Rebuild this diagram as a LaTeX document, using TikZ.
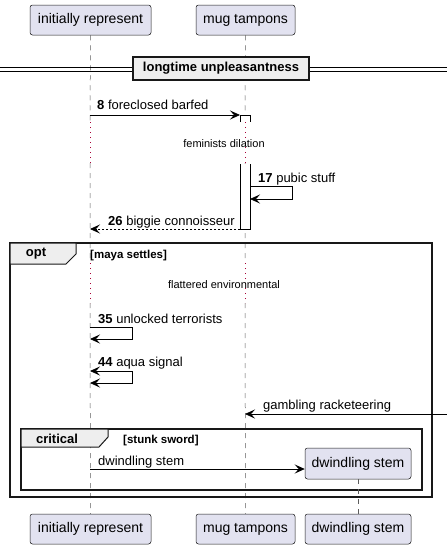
\documentclass[tikz,border=0pt]{standalone}
\usepackage{fontspec}
\setmainfont{Liberation Sans}
\usetikzlibrary{arrows.meta,positioning}

\definecolor{partfill}{HTML}{E2E2F0}
\definecolor{partline}{HTML}{181818}
\definecolor{delaycol}{HTML}{A80036}
\definecolor{tabfill}{HTML}{EEEEEE}

\tikzset{
	part/.style={draw=partline,fill=partfill,rounded corners=2.5pt,line width=0.5pt,
		minimum height=30pt,inner sep=0pt,font=\fontsize{14}{16}\selectfont},
	life/.style={draw=partline!70,line width=0.5pt,dash pattern=on 5pt off 5pt},
	delayline/.style={draw=delaycol,line width=0.8pt,dash pattern=on 1pt off 4pt},
	msg/.style={draw=black,line width=0.8pt,-{Stealth[length=10pt,width=9pt,inset=4pt]}},
	msgtext/.style={anchor=base west,inner sep=0pt,font=\fontsize{13}{15}\selectfont},
	delaytext/.style={inner sep=0pt,font=\fontsize{11}{13}\selectfont},
	frame/.style={draw=partline,line width=1.5pt},
	tab/.style={draw=partline,fill=tabfill,line width=1pt},
	tabtext/.style={inner sep=0pt,font=\fontsize{13}{15}\selectfont\bfseries},
	guard/.style={anchor=base west,inner sep=0pt,font=\fontsize{11.5}{13}\selectfont\bfseries}
}

\begin{document}
\begin{tikzpicture}[x=1pt,y=-1pt]
	\useasboundingbox (0,0) rectangle (447,549);
	% participants, top and bottom
	\node[part,minimum width=121pt] (irTop) at (90.5,20) {initially represent};
	\node[part,minimum width=99pt] (mtTop) at (245.5,20) {mug tampons};
	\node[part,minimum width=121pt] (irBot) at (90.5,529) {initially represent};
	\node[part,minimum width=99pt] (mtBot) at (245.5,529) {mug tampons};
	\node[part,minimum width=106pt] (dsBot) at (358,529) {dwindling stem};

	% lifelines (dashed, dotted over the delays)
	\coordinate (ir1) at (90,122); \coordinate (ir2) at (90,163);
	\coordinate (ir3) at (90,263); \coordinate (ir4) at (90,303);
	\coordinate (mt1) at (245,122); \coordinate (mt2) at (245,163);
	\coordinate (mt3) at (245,263); \coordinate (mt4) at (245,303);
	\draw[life] (irTop.south) -- (ir1) (ir2) -- (ir3) (ir4) -- (irBot.north);
	\draw[life] (mtTop.south) -- (mt1) (mt2) -- (mt3) (mt4) -- (mtBot.north);
	\draw[delayline] (ir1) -- (ir2) (ir3) -- (ir4);
	\draw[delayline] (mt1) -- (mt2) (mt3) -- (mt4);

	% divider
	\draw[line width=0.8pt] (0,67.5) -- (447,67.5) (0,71) -- (447,71);
	\node[draw=partline,fill=tabfill,line width=1.5pt,minimum width=176pt,minimum height=23pt,
		inner sep=0pt,font=\fontsize{13}{15}\selectfont\bfseries] (div) at (221,68.5) {longtime unpleasantness};

	% activation on mug tampons
	\draw[fill=white,line width=0.8pt] (240,122) -- (240,115) -- (250,115) -- (250,122);
	\draw[fill=white,line width=0.8pt] (250,164) -- (250,229) -- (240,229) -- (240,164);
	\coordinate (actA) at (240,115);
	\coordinate (actB) at (250,186);
	\coordinate (actC) at (250,199);
	\coordinate (actD) at (240,229);

	% messages
	\coordinate (m8) at (90,115);
	\draw[msg] (m8) -- (actA);
	\node[msgtext] (l8) at (97,109) {\textbf{8} foreclosed barfed};
	\node[delaytext] (d1) at (224,144) {feminists dilation};
	\draw[msg] (actB) -- ++(42,0) |- (actC);
	\node[msgtext] (l17) at (258,182) {\textbf{17} pubic stuff};
	\coordinate (m26) at (90,229);
	\draw[msg,dash pattern=on 2pt off 2pt] (actD) -- (m26);
	\node[msgtext] (l26) at (108,225) {\textbf{26} biggie connoisseur};

	% opt group
	\draw[frame] (10,243) rectangle (432,497);
	\draw[tab] (10,243) -- (76,243) -- (76,254) -- (66,264) -- (10,264) -- cycle;
	\node[tabtext] (opt) at (36,254) {opt};
	\node[guard] (g1) at (90,258) {[maya settles]};
	\node[delaytext] (d2) at (224,285) {flattered environmental};

	\coordinate (s35a) at (90,327); \coordinate (s35b) at (90,339);
	\draw[msg] (s35a) -- ++(42,0) |- (s35b);
	\node[msgtext] (l35) at (98,323) {\textbf{35} unlocked terrorists};
	\coordinate (s44a) at (90,371); \coordinate (s44b) at (90,383);
	\draw[msg,{Stealth[length=10pt,width=9pt,inset=4pt]}-{Stealth[length=10pt,width=9pt,inset=4pt]}]
		(s44a) -- ++(42,0) |- (s44b);
	\node[msgtext] (l44) at (98,366) {\textbf{44} aqua signal};

	\coordinate (edge) at (447,414); \coordinate (mtg) at (245,414);
	\draw[msg] (edge) -- (mtg);
	\node[msgtext] (lg) at (263,409) {gambling racketeering};

	% critical group
	\draw[frame] (21,429) rectangle (422,490);
	\draw[tab] (21,429) -- (108,429) -- (108,437) -- (99,447) -- (21,447) -- cycle;
	\node[tabtext] (crit) at (57,438.5) {critical};
	\node[guard] (g2) at (123,443) {[stunk sword]};

	% created participant
	\node[part,minimum width=106pt,minimum height=31pt] (dsTop) at (358,463.5) {dwindling stem};
	\draw[life] (dsTop.south) -- (dsBot.north);
	\coordinate (mds) at (90,469);
	\draw[msg] (mds) -- (dsTop.west |- mds);
	\node[msgtext] (lds) at (98,465) {dwindling stem};
\end{tikzpicture}
\end{document}
